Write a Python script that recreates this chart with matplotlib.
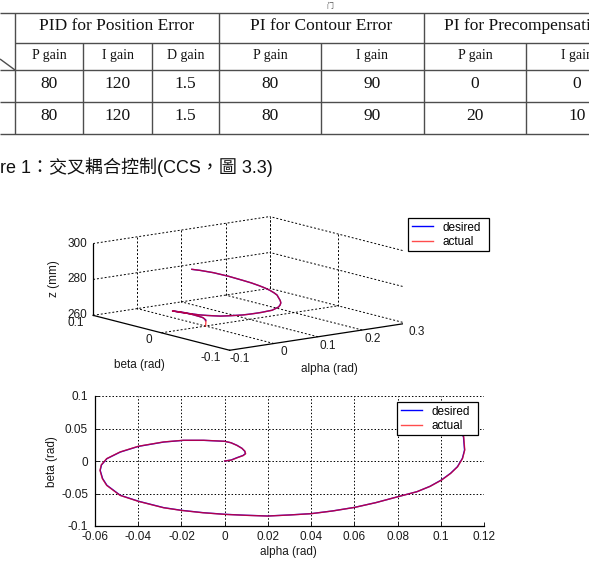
import numpy as np
import matplotlib
matplotlib.use("Agg")
import matplotlib.pyplot as plt

plt.rcParams["axes.unicode_minus"] = False

# ---------------- data ----------------
group_names = ["PID for Position Error", "PI for Contour Error", "PI for Precompensation"]
sub_heads = ["P gain", "I gain", "D gain", "P gain", "I gain", "P gain", "I gain"]
row_1 = ["80", "120", "1.5", "80", "90", "0", "0"]
row_2 = ["80", "120", "1.5", "80", "90", "20", "10"]
caption = "re 1：交叉耦合控制(CCS，圖 3.3)"

desired_alpha = [0.0000, 0.0030, 0.0057, 0.0085, 0.0096, 0.0093, 0.0080, 0.0057, 0.0030, 0.0000,
                 -0.0097, -0.0190, -0.0282, -0.0398, -0.0483, -0.0545, -0.0570, -0.0576, -0.0565, -0.0545,
                 -0.0483, -0.0398, -0.0282, -0.0200, -0.0100, 0.0000, 0.0100, 0.0199, 0.0300, 0.0400,
                 0.0500, 0.0602, 0.0700, 0.0802, 0.0890, 0.0950, 0.1003, 0.1045, 0.1077, 0.1100,
                 0.1110, 0.1105, 0.1060, 0.0980, 0.0910]
desired_beta = [0.0000, 0.0015, 0.0051, 0.0085, 0.0113, 0.0150, 0.0195, 0.0241, 0.0280, 0.0303,
                0.0318, 0.0318, 0.0292, 0.0226, 0.0138, 0.0036, -0.0060, -0.0144, -0.0270, -0.0374,
                -0.0528, -0.0620, -0.0718, -0.0759, -0.0795, -0.0820, -0.0835, -0.0846, -0.0830, -0.0810,
                -0.0768, -0.0713, -0.0640, -0.0549, -0.0472, -0.0390, -0.0292, -0.0190, -0.0088, 0.0040,
                0.0169, 0.0375, 0.0570, 0.0710, 0.0790]
desired_z = [263.0, 263.1, 263.2, 263.3, 263.4, 263.5, 263.7, 264.0, 264.2, 264.5,
             265.2, 265.8, 266.5, 267.7, 268.7, 269.5, 270.0, 270.5, 271.0, 271.6,
             272.5, 273.3, 274.2, 274.7, 275.2, 275.6, 276.0, 276.3, 276.7, 277.0,
             277.3, 277.6, 277.9, 278.2, 278.5, 278.7, 279.0, 279.2, 279.3, 279.5,
             279.6, 279.9, 280.2, 280.4, 280.5]

actual_alpha = [0.0000, 0.0031, 0.0058, 0.0086, 0.0097, 0.0094, 0.0080, 0.0056, 0.0029, -0.0001,
                -0.0098, -0.0191, -0.0283, -0.0399, -0.0484, -0.0546, -0.0571, -0.0577, -0.0566, -0.0546,
                -0.0484, -0.0399, -0.0283, -0.0201, -0.0101, -0.0001, 0.0099, 0.0198, 0.0299, 0.0399,
                0.0499, 0.0601, 0.0699, 0.0801, 0.0889, 0.0950, 0.1004, 0.1046, 0.1078, 0.1101,
                0.1111, 0.1106, 0.1061, 0.0981, 0.0911]
actual_beta = [0.0000, 0.0014, 0.0050, 0.0084, 0.0112, 0.0150, 0.0195, 0.0241, 0.0281, 0.0304,
               0.0319, 0.0319, 0.0293, 0.0227, 0.0139, 0.0036, -0.0060, -0.0145, -0.0271, -0.0375,
               -0.0529, -0.0621, -0.0719, -0.0760, -0.0796, -0.0821, -0.0836, -0.0847, -0.0831, -0.0811,
               -0.0769, -0.0714, -0.0641, -0.0550, -0.0473, -0.0391, -0.0293, -0.0190, -0.0088, 0.0041,
               0.0170, 0.0376, 0.0571, 0.0711, 0.0791]
actual_z = [260.0, 262.6, 263.1, 263.3, 263.4, 263.5, 263.7, 264.0, 264.2, 264.5,
            265.2, 265.8, 266.5, 267.7, 268.7, 269.5, 270.0, 270.5, 271.0, 271.6,
            272.5, 273.3, 274.2, 274.7, 275.2, 275.6, 276.0, 276.3, 276.7, 277.0,
            277.3, 277.6, 277.9, 278.2, 278.5, 278.7, 279.0, 279.2, 279.3, 279.5,
            279.6, 279.9, 280.2, 280.4, 280.5]

alpha_ticks_3d = [-0.1, 0.0, 0.1, 0.2, 0.3]
beta_ticks_3d = [-0.1, 0.0, 0.1]
z_ticks_3d = [260, 280, 300]
alpha_ticks_2d = [-0.06, -0.04, -0.02, 0.0, 0.02, 0.04, 0.06, 0.08, 0.1, 0.12]
beta_ticks_2d = [-0.1, -0.05, 0.0, 0.05, 0.1]

# ---------------- figure ----------------
W, H = 589, 562
fig = plt.figure(figsize=(W / 100, H / 100), dpi=100)
fig.patch.set_facecolor("white")

page = fig.add_axes([0, 0, 1, 1], zorder=0)
page.set_xlim(0, W)
page.set_ylim(H, 0)
page.axis("off")

# ---- table ----
col_x = [0, 15, 83, 152, 219, 321, 424, 526, 628]
row_y = [13, 43, 70, 102, 134]
group_span = [(1, 4), (4, 6), (6, 8)]
lk = dict(color="#4d4d4d", lw=1.0, solid_capstyle="butt")
for y in (row_y[0], row_y[2], row_y[3], row_y[4]):
    page.plot([0, W], [y, y], **lk)
page.plot([col_x[1], W], [row_y[1], row_y[1]], **lk)
bounds = {g[0] for g in group_span} | {g[1] for g in group_span}
for i in range(1, len(col_x)):
    top = row_y[0] if i in bounds else row_y[1]
    page.plot([col_x[i], col_x[i]], [top, row_y[4]], **lk)
page.plot([0, col_x[1]], [59, row_y[2]], **lk)

serif = "Liberation Serif"
for name, (i0, i1) in zip(group_names, group_span):
    page.text((col_x[i0] + col_x[i1]) / 2, 29.5, name, family=serif, fontsize=12.5,
              ha="center", va="baseline", color="#111111")
for k in range(len(sub_heads)):
    xc = (col_x[k + 1] + col_x[k + 2]) / 2
    page.text(xc, 59, sub_heads[k], family=serif, fontsize=10, ha="center", va="baseline", color="#111111")
    page.text(xc, 88, row_1[k], family=serif, fontsize=12.5, ha="center", va="baseline", color="#111111")
    page.text(xc, 120, row_2[k], family=serif, fontsize=12.5, ha="center", va="baseline", color="#111111")

page.text(330, 8, "门", family="Noto Sans CJK SC", fontsize=5, ha="center", va="baseline", color="#555555")

# ---- caption ----
page.text(0, 173, caption, family=["Liberation Sans", "Noto Sans CJK TC"], fontsize=13,
          ha="left", va="baseline", color="#111111")

sans = "Liberation Sans"
tcol = "#1a1a1a"
fs = 8.5

# ---- 2D plot ----
ax2 = fig.add_axes([95 / W, 1 - 526 / H, 389 / W, 130 / H], zorder=1)
ax2.plot(desired_alpha, desired_beta, color="blue", lw=1.0, label="desired")
ax2.plot(actual_alpha, actual_beta, color="red", lw=1.0, alpha=0.7, label="actual")
ax2.set_xlim(-0.06, 0.12)
ax2.set_ylim(-0.1, 0.1)
ax2.set_xticks(alpha_ticks_2d)
ax2.set_xticklabels([f"{v:g}" for v in alpha_ticks_2d])
ax2.set_yticks(beta_ticks_2d)
ax2.set_yticklabels([f"{v:g}" for v in beta_ticks_2d])
ax2.grid(True, color="black", ls=(0, (1.5, 2.0)), lw=0.7)
for s in ("top", "right"):
    ax2.spines[s].set_visible(False)
for s in ("left", "bottom"):
    ax2.spines[s].set_linewidth(0.9)
ax2.tick_params(direction="in", length=3, width=0.7, labelsize=fs, colors=tcol)
ax2.tick_params(axis="y", pad=5)
ax2.tick_params(axis="x", pad=3.5)
for lab in ax2.get_xticklabels() + ax2.get_yticklabels():
    lab.set_family(sans)
leg2 = ax2.legend(loc="upper left", bbox_to_anchor=(397 / W, 1 - 435 / H, 81 / W, 33 / H),
                  bbox_transform=fig.transFigure, mode="expand", borderaxespad=0,
                  fancybox=False, framealpha=1, edgecolor="black", prop={"family": sans, "size": fs},
                  handlelength=1.8, handletextpad=0.8, labelspacing=0.2, borderpad=0.3)
leg2.get_frame().set_linewidth(0.9)

page.text(52, 462, "beta (rad)", family=sans, fontsize=fs, rotation=90, ha="center", va="center", color=tcol)
page.text(288, 552, "alpha (rad)", family=sans, fontsize=fs, ha="center", va="center", color=tcol)

# ---- 3D plot ----
ax3 = fig.add_axes([0.1, 0.3, 0.6, 0.6], projection="3d", computed_zorder=False, zorder=2)
ax3.set_proj_type("ortho")
ax3.view_init(elev=11.4, azim=-127.7)
ax3.set_box_aspect((1, 1, 0.328))
ax3.set_xlim(alpha_ticks_3d[0], alpha_ticks_3d[-1])
ax3.set_ylim(beta_ticks_3d[0], beta_ticks_3d[-1])
ax3.set_zlim(z_ticks_3d[0], z_ticks_3d[-1])
ax3.set_axis_off()
ax3.set_facecolor((1, 1, 1, 0))

a0, a1 = alpha_ticks_3d[0], alpha_ticks_3d[-1]
b0, b1 = beta_ticks_3d[0], beta_ticks_3d[-1]
z0, z1 = z_ticks_3d[0], z_ticks_3d[-1]
gk = dict(color="black", lw=0.7, ls=(0, (2.0, 2.0)), zorder=1)
ak = dict(color="black", lw=0.9, zorder=2)
# floor
for a in alpha_ticks_3d:
    ax3.plot([a, a], [b0, b1], [z0, z0], **(ak if a == a0 else gk))
for b in beta_ticks_3d:
    ax3.plot([a0, a1], [b, b], [z0, z0], **(ak if b == b0 else gk))
# back wall beta = max
for a in alpha_ticks_3d:
    ax3.plot([a, a], [b1, b1], [z0, z1], **(ak if a == a0 else gk))
for z in z_ticks_3d[1:]:
    ax3.plot([a0, a1], [b1, b1], [z, z], **gk)
# back wall alpha = max
for b in beta_ticks_3d:
    ax3.plot([a1, a1], [b, b], [z0, z1], **gk)
for z in z_ticks_3d[1:]:
    ax3.plot([a1, a1], [b0, b1], [z, z], **gk)

ax3.plot(desired_alpha, desired_beta, desired_z, color="blue", lw=1.0, label="desired", zorder=3)
ax3.plot(actual_alpha, actual_beta, actual_z, color="red", lw=1.0, alpha=0.7, label="actual", zorder=4)

for a in alpha_ticks_3d:
    ax3.text(a, b0 - 0.015, z0 - 3.5, f"{a:g}", family=sans, fontsize=fs, ha="center", va="center", color=tcol)
for b in beta_ticks_3d:
    ax3.text(a0 - 0.02, b, z0 - 3.5, f"{b:g}", family=sans, fontsize=fs, ha="right", va="center", color=tcol)
for z in z_ticks_3d:
    ax3.text(a0 - 0.0085, b1 + 0.0033, z, f"{z:g}", family=sans, fontsize=fs, ha="right", va="center", color=tcol)

leg3 = ax3.legend(loc="upper left", bbox_to_anchor=(408 / W, 1 - 252 / H, 81 / W, 34 / H),
                  bbox_transform=fig.transFigure, mode="expand", borderaxespad=0,
                  fancybox=False, framealpha=1, edgecolor="black", prop={"family": sans, "size": fs},
                  handlelength=1.8, handletextpad=0.8, labelspacing=0.2, borderpad=0.3)
leg3.get_frame().set_linewidth(0.9)

page.text(54, 279, "z (mm)", family=sans, fontsize=fs, rotation=90, ha="center", va="center", color=tcol)
page.text(139, 365, "beta (rad)", family=sans, fontsize=fs, ha="center", va="center", color=tcol)
page.text(329, 369, "alpha (rad)", family=sans, fontsize=fs, ha="center", va="center", color=tcol)

# ---- fit the 3D box onto its place on the page ----
anchor_pts = [(a0, b0, z0), (a0, b1, z0), (a1, b0, z0), (a0, b1, z1), (a1, b1, z1)]
anchor_px = [(230, 350), (93, 315), (407, 323), (93, 243), (269, 218)]


def project(ax, pts):
    M = ax.get_proj()
    P = np.column_stack([np.asarray(pts, float), np.ones(len(pts))]) @ M.T
    xy = P[:, :2] / P[:, 3:4]
    return ax.transData.transform(xy)


for _ in range(2):
    fig.canvas.draw()
    bb = ax3.get_window_extent()
    cx, cy, S = (bb.x0 + bb.x1) / 2, (bb.y0 + bb.y1) / 2, bb.width
    P = project(ax3, anchor_pts)
    u = (P - np.array([cx, cy])) / S
    A, rhs = [], []
    for (ux, uy), (tx, ty) in zip(u, anchor_px):
        A.append([1, 0, ux]); rhs.append(tx)
        A.append([0, 1, uy]); rhs.append(H - ty)
    (ncx, ncy, nS), *_ = np.linalg.lstsq(np.array(A, float), np.array(rhs, float), rcond=None)
    ax3.set_position([(ncx - nS / 2) / W, (ncy - nS / 2) / H, nS / W, nS / H])

fig.savefig("out.png", dpi=100, facecolor="white")
